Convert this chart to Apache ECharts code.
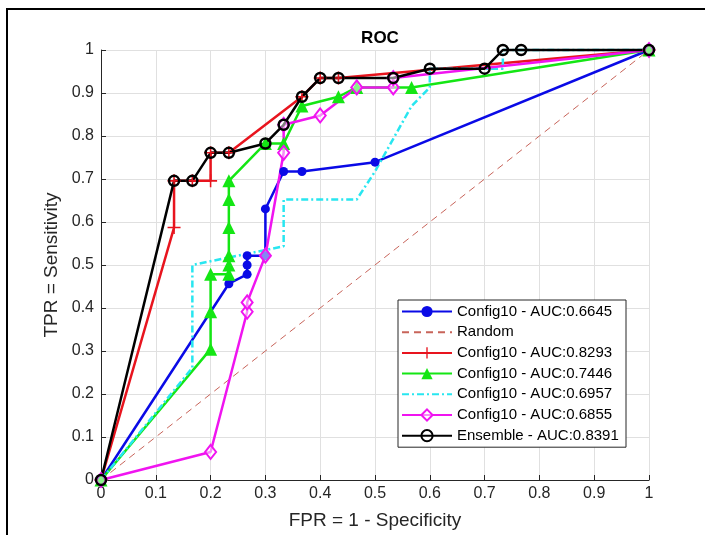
<!DOCTYPE html>
<html>
<head>
<meta charset="utf-8">
<script src="https://cdn.jsdelivr.net/npm/echarts@6/dist/echarts.min.js"></script>
<style>
  html, body { margin: 0; padding: 0; background: #fff; }
  #chart { width: 705px; height: 535px; }
</style>
</head>
<body>
<div id="chart"></div>
<script>
// ROC points (FPR steps of 1/30, TPR steps of 1/46)
const fprBlue = [0, 0.2333, 0.2667, 0.2667, 0.2667, 0.3, 0.3, 0.3333, 0.3667, 0.5, 1]
const tprBlue = [0, 0.4565, 0.4783, 0.5, 0.5217, 0.5217, 0.6304, 0.7174, 0.7174, 0.7391, 1]

const fprRandom = [0, 1]
const tprRandom = [0, 1]

const fprRed = [0, 0.1333, 0.1333, 0.1667, 0.2, 0.2, 0.2333, 0.3667, 0.4, 0.4333, 1]
const tprRed = [0, 0.587, 0.6957, 0.6957, 0.6957, 0.7609, 0.7609, 0.8913, 0.9348, 0.9348, 1]

const fprGreen = [0, 0.2, 0.2, 0.2, 0.2333, 0.2333, 0.2333, 0.2333, 0.2333, 0.2333, 0.3, 0.3333, 0.3667, 0.4333, 0.4667, 0.5667, 1]
const tprGreen = [0, 0.3043, 0.3913, 0.4783, 0.4783, 0.5, 0.5217, 0.587, 0.6522, 0.6957, 0.7826, 0.7826, 0.8696, 0.8913, 0.913, 0.913, 1]

const fprCyan = [0, 0.1667, 0.1667, 0.3333, 0.3333, 0.4667, 0.5, 0.5667, 0.6, 0.6, 0.7333, 0.7333, 1]
const tprCyan = [0, 0.2609, 0.5, 0.5435, 0.6522, 0.6522, 0.7174, 0.8696, 0.913, 0.9565, 0.9565, 1, 1]

const fprMagenta = [0, 0.2, 0.2667, 0.2667, 0.3, 0.3333, 0.3333, 0.4, 0.4667, 0.5333, 0.5333, 1]
const tprMagenta = [0, 0.0652, 0.3913, 0.413, 0.5217, 0.7609, 0.8261, 0.8478, 0.913, 0.913, 0.9348, 1]

const fprEnsemble = [0, 0.1333, 0.1667, 0.2, 0.2333, 0.3, 0.3333, 0.3667, 0.4, 0.4333, 0.5333, 0.6, 0.7, 0.7333, 0.7667, 1]
const tprEnsemble = [0, 0.6957, 0.6957, 0.7609, 0.7609, 0.7826, 0.8261, 0.8913, 0.9348, 0.9348, 0.9348, 0.9565, 0.9565, 1, 1, 1]

const legendNames = [
  'Config10 - AUC:0.6645',
  'Random',
  'Config10 - AUC:0.8293',
  'Config10 - AUC:0.7446',
  'Config10 - AUC:0.6957',
  'Config10 - AUC:0.6855',
  'Ensemble - AUC:0.8391',
]

const axisTicks = [0, 0.1, 0.2, 0.3, 0.4, 0.5, 0.6, 0.7, 0.8, 0.9, 1]

const plusSymbol = 'path://M-0.12,-1h0.24v0.88h0.88v0.24h-0.88v0.88h-0.24v-0.88h-0.88v-0.24h0.88z'

function zip(xs, ys) {
  return xs.map((x, i) => [x, ys[i]])
}

function curve(name, xs, ys, color, extra) {
  return Object.assign({
    name,
    type: 'line',
    data: zip(xs, ys),
    clip: false,
    color,
    lineStyle: { color, width: 2.5 },
    emphasis: { disabled: true },
    animation: false,
  }, extra)
}

const chart = echarts.init(document.getElementById('chart'))

const font = 'Liberation Sans, Arial, Helvetica, sans-serif'

const axisCommon = {
  type: 'value',
  min: 0,
  max: 1,
  interval: 0.1,
  axisLine: { show: true, onZero: false, lineStyle: { color: '#262626', width: 1 } },
  axisTick: { show: true, inside: true, length: 5, lineStyle: { color: '#262626' } },
  splitLine: { show: true, lineStyle: { color: '#e0e0e0', width: 1 } },
  axisLabel: {
    color: '#262626',
    fontSize: 16,
    fontFamily: font,
    formatter: (v) => {
      const t = axisTicks.find(a => Math.abs(a - v) < 1e-6)
      return t === undefined ? '' : String(t)
    },
  },
  nameLocation: 'middle',
  nameTextStyle: { color: '#262626', fontSize: 19, fontFamily: font },
}

// series without markers get a plain line in the legend
const legendData = legendNames.map((name, i) =>
  (i === 1 || i === 4) ? { name, itemStyle: { opacity: 0 } } : { name })

const option = {
  backgroundColor: '#fff',
  animation: false,
  title: {
    text: 'ROC',
    left: 375,
    textAlign: 'center',
    top: 25,
    textStyle: { color: '#000', fontSize: 17, fontWeight: 'bold', fontFamily: font },
  },
  grid: { left: 101, right: 56, top: 50, bottom: 53 },
  xAxis: Object.assign({}, axisCommon, {
    name: 'FPR = 1 - Specificity',
    nameGap: 31,
    axisLabel: Object.assign({}, axisCommon.axisLabel, { margin: 6 }),
  }),
  yAxis: Object.assign({}, axisCommon, {
    name: 'TPR = Sensitivity',
    nameGap: 36,
    axisLabel: Object.assign({}, axisCommon.axisLabel, { margin: 7 }),
  }),
  legend: {
    orient: 'vertical',
    left: 398,
    top: 300,
    data: legendData,
    itemWidth: 50,
    itemHeight: 14,
    itemGap: 5.7,
    itemTextGap: 5,
    padding: [4, 3, 4, 3],
    borderColor: '#262626',
    borderWidth: 1,
    backgroundColor: '#fff',
    selectedMode: false,
    textStyle: { color: '#000', fontSize: 15, lineHeight: 14, fontFamily: font, width: 166 },
  },
  graphic: [{
    type: 'rect',
    z: 100,
    silent: true,
    shape: { x: 7, y: 9, width: 800, height: 600 },
    style: { fill: 'none', stroke: '#000', lineWidth: 2 },
  }],
  series: [
    curve(legendNames[0], fprBlue, tprBlue, '#0a0ae6', {
      symbol: 'circle', symbolSize: 9,
      itemStyle: { color: '#0a0ae6' },
    }),
    curve(legendNames[1], fprRandom, tprRandom, '#c8645a', {
      symbol: 'none',
      lineStyle: { color: '#c8645a', width: 1, type: [7, 5] },
    }),
    curve(legendNames[2], fprRed, tprRed, '#e8141e', {
      symbol: plusSymbol, symbolSize: 13,
      itemStyle: { color: '#e8141e' },
    }),
    curve(legendNames[3], fprGreen, tprGreen, '#14e614', {
      symbol: 'triangle', symbolSize: 13,
      itemStyle: { color: '#14e614' },
    }),
    curve(legendNames[4], fprCyan, tprCyan, '#28e6f0', {
      symbol: 'none',
      lineStyle: { color: '#28e6f0', width: 2.5, type: [7, 3, 2, 3] },
    }),
    curve(legendNames[5], fprMagenta, tprMagenta, '#f014f0', {
      symbol: 'diamond', symbolSize: [11, 14],
      itemStyle: { color: 'rgba(255,255,255,0.5)', borderColor: '#f014f0', borderWidth: 2 },
    }),
    curve(legendNames[6], fprEnsemble, tprEnsemble, '#000', {
      symbol: 'circle', symbolSize: 10,
      itemStyle: { color: 'rgba(0,0,0,0)', borderColor: '#000', borderWidth: 2.5 },
    }),
  ],
}

chart.setOption(option)
</script>
</body>
</html>
